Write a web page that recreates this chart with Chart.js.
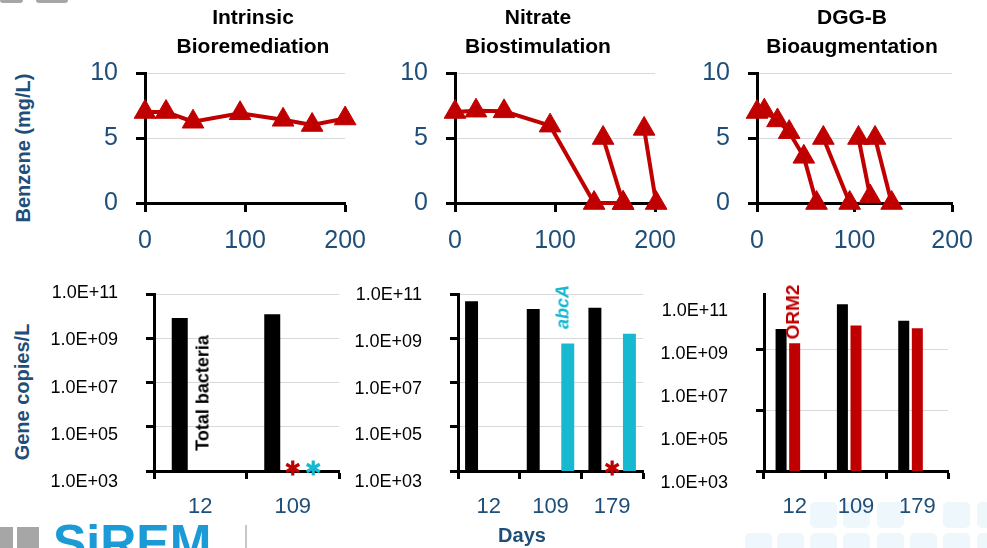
<!DOCTYPE html>
<html>
<head>
<meta charset="utf-8">
<script src="https://cdn.jsdelivr.net/npm/chart.js@4/dist/chart.umd.min.js"></script>
<style>
html,body{margin:0;padding:0;background:#fff;}
#root{position:relative;width:987px;height:548px;overflow:hidden;font-family:'Liberation Sans',Arial,sans-serif;}
canvas{position:absolute;z-index:2;}
.deco{position:absolute;z-index:0;}
.txt{position:absolute;white-space:nowrap;z-index:3;}
.rot{transform:translate(-50%,-50%) rotate(-90deg);}
.title{position:absolute;z-index:3;font-weight:bold;font-size:21px;line-height:29px;text-align:center;transform:translateX(-50%);color:#000;white-space:nowrap;}
</style>
</head>
<body>
<div id="root">
  <!-- decorative background -->
  <div class="deco" style="left:0;top:0;width:23px;height:3px;background:#a6a6a6;border-radius:0 0 3px 3px;"></div>
  <div class="deco" style="left:36px;top:0;width:32px;height:3px;background:#a6a6a6;border-radius:0 0 3px 3px;"></div>
  <div class="deco" style="left:0;top:527px;width:13px;height:30px;background:#a6a6a6;"></div>
  <div class="deco" style="left:17px;top:527px;width:22px;height:30px;background:#a6a6a6;"></div>
  <div class="deco" style="left:53px;top:518px;font-size:50px;line-height:50px;font-weight:bold;color:#1c9ad6;white-space:nowrap;">SiREM</div>
  <div class="deco" style="left:245px;top:525px;width:2px;height:30px;background:#c8c8c8;"></div>
  <div id="tiles"></div>

  <canvas id="c1"></canvas>
  <canvas id="c2"></canvas>
  <canvas id="c3"></canvas>
  <canvas id="c4"></canvas>
  <canvas id="c5"></canvas>
  <canvas id="c6"></canvas>

  <div class="title" style="left:253px;top:2px;">Intrinsic<br>Bioremediation</div>
  <div class="title" style="left:538px;top:2px;">Nitrate<br>Biostimulation</div>
  <div class="title" style="left:852px;top:2px;">DGG-B<br>Bioaugmentation</div>

  <div class="txt rot" style="left:23px;top:148px;font-size:20px;font-weight:bold;color:#1F4E79;">Benzene (mg/L)</div>
  <div class="txt rot" style="left:22px;top:392px;font-size:20px;font-weight:bold;color:#1F4E79;">Gene copies/L</div>
  <div class="txt" style="left:522px;top:535px;transform:translate(-50%,-50%);font-size:20px;font-weight:bold;color:#1F4E79;">Days</div>

  <div class="txt rot" style="left:203px;top:393px;font-size:18px;font-weight:bold;color:#000;">Total bacteria</div>
  <div class="txt rot" style="left:563px;top:307px;font-size:18px;font-weight:bold;font-style:italic;color:#16B9CF;">abcA</div>
  <div class="txt rot" style="left:793px;top:312px;font-size:19px;font-weight:bold;color:#C00000;">ORM2</div>
</div>

<script>
// ---------------- DATA ----------------
// Top row: benzene (mg/L) vs. days
const dayTicks = [0, 100, 200];
const benzeneTicks = [0, 5, 10];

const intrinsicDays    = [0, 21, 48, 95, 138, 167, 200];
const intrinsicBenzene = [7.0, 7.0, 6.25, 6.9, 6.4, 6.0, 6.5];

const nitrateDaysA    = [0, 21, 49, 95, 139, 168];
const nitrateBenzeneA = [7.0, 7.1, 7.05, 5.95, 0, 0];
const nitrateDaysB    = [148, 168];
const nitrateBenzeneB = [5.0, 0];
const nitrateDaysC    = [189, 201];
const nitrateBenzeneC = [5.7, 0];

const dggDaysA    = [0, 7.5, 21, 33, 48, 61];
const dggBenzeneA = [7.0, 7.1, 6.35, 5.45, 3.55, 0];
const dggDaysB    = [68, 95];
const dggBenzeneB = [5.0, 0];
const dggDaysC    = [104, 116];
const dggBenzeneC = [5.0, 0.5];
const dggDaysD    = [121, 138];
const dggBenzeneD = [5.0, 0];

// Bottom row: gene copies / L (log scale)
const geneTickExps = [3, 5, 7, 9, 11];        // labels 1.0E+03 ... 1.0E+11
const dggGridExps  = [3, 6, 9];               // gridlines of the DGG-B panel

const intrinsicSampleDays = ['12', '109'];
const intrinsicTotal = [8.9e9, 1.3e10];
const intrinsicORM2  = [null, null];
const intrinsicAbcA  = [null, null];
const intrinsicORM2BDL = [false, true];       // * = below detection
const intrinsicAbcABDL = [false, true];

const nitrateSampleDays = ['12', '109', '179'];
const nitrateTotal = [5.1e10, 2.25e10, 2.6e10];
const nitrateORM2  = [null, null, null];
const nitrateAbcA  = [null, 6.2e8, 1.7e9];
const nitrateORM2BDL = [false, false, true];

const dggSampleDays = ['12', '109', '179'];
const dggTotal = [1.0e10, 1.66e11, 2.6e10];
const dggORM2  = [2.0e9, 1.5e10, 1.1e10];
const dggAbcA  = [null, null, null];

// ---------------- STYLE ----------------
const BLUE = '#1F4E79';
const RED = '#C00000';
const CYAN = '#16B9CF';
const GRID = '#D9D9D9';
const FONT = "'Liberation Sans', Arial, sans-serif";
Chart.defaults.font.family = FONT;

// decorative tiles (bottom right)
(function(){
  const tiles = document.getElementById('tiles');
  const rows = [
    {t:502, h:26, xs:[810, 843, 877, 943, 977]},
    {t:533, h:26, xs:[745, 777, 810, 843, 877, 910, 943, 977]}
  ];
  rows.forEach(r => r.xs.forEach(x => {
    const d = document.createElement('div');
    d.className = 'deco';
    d.style.cssText = `left:${x}px;top:${r.t}px;width:27px;height:${r.h}px;background:#eef7fc;border-radius:5px;`;
    tiles.appendChild(d);
  }));
})();

function setupCanvas(id, c) {
  const el = document.getElementById(id);
  el.width = c.w; el.height = c.h;
  el.style.left = c.x + 'px'; el.style.top = c.y + 'px';
  el.style.width = c.w + 'px'; el.style.height = c.h + 'px';
  return el;
}

function lineSeries(xs, ys) {
  return {
    data: xs.map((d, i) => ({x: d, y: ys[i]})),
    showLine: true, borderColor: RED, backgroundColor: RED, borderWidth: 4,
    pointStyle: 'triangle', pointRadius: 12.5, pointBorderWidth: 1,
    pointBorderColor: RED, pointBackgroundColor: RED, clip: false, tension: 0
  };
}

function topChart(id, c, a, series) {
  const el = setupCanvas(id, c);
  const yW = a.l - c.x, xH = 50;
  return new Chart(el, {
    type: 'scatter',
    data: {datasets: series},
    options: {
      responsive: false, animation: false, devicePixelRatio: 1, events: [],
      layout: {padding: {left: 0, top: a.t - c.y, right: c.x + c.w - a.r, bottom: c.y + c.h - a.b - xH}},
      plugins: {legend: {display: false}, tooltip: {enabled: false}},
      scales: {
        x: {
          type: 'linear', min: 0, max: 200,
          afterBuildTicks: s => { s.ticks = dayTicks.map(v => ({value: v})); },
          afterFit: s => { s.height = xH; },
          border: {color: '#000', width: 3},
          grid: {drawOnChartArea: false, drawTicks: true, tickLength: 9, tickWidth: 3, tickColor: '#000'},
          ticks: {color: BLUE, font: {size: 25}, padding: 14, maxRotation: 0, autoSkip: false}
        },
        y: {
          min: 0, max: 10,
          afterBuildTicks: s => { s.ticks = benzeneTicks.map(v => ({value: v})); },
          afterFit: s => { s.width = yW; },
          border: {color: '#000', width: 3},
          grid: {color: GRID, lineWidth: 1, drawTicks: true, tickLength: 9, tickWidth: 3, tickColor: '#000'},
          ticks: {color: BLUE, font: {size: 25}, padding: 18, autoSkip: false}
        }
      }
    }
  });
}

function drawAsterisk(ctx, x, y, color) {
  ctx.save();
  ctx.strokeStyle = color; ctx.lineWidth = 3.2; ctx.lineCap = 'butt';
  const r = 7.5;
  for (let k = 0; k < 3; k++) {
    const ang = Math.PI / 2 + k * Math.PI / 3;
    ctx.beginPath();
    ctx.moveTo(x + Math.cos(ang) * r, y - Math.sin(ang) * r);
    ctx.lineTo(x - Math.cos(ang) * r, y + Math.sin(ang) * r);
    ctx.stroke();
  }
  ctx.restore();
}

const bdlPlugin = {
  id: 'bdl',
  afterDatasetsDraw(chart) {
    const ctx = chart.ctx;
    const y = chart.scales.y.bottom - 3;
    chart.data.datasets.forEach((ds, di) => {
      if (!ds.bdl) return;
      const meta = chart.getDatasetMeta(di);
      ds.bdl.forEach((flag, i) => {
        if (flag && meta.data[i]) drawAsterisk(ctx, meta.data[i].x, y, ds.backgroundColor);
      });
    });
  }
};

function fmtE(v) {
  const e = Math.round(Math.log10(v));
  return '1.0E+' + String(e).padStart(2, '0');
}

function bottomChart(id, c, a, cats, sets, o) {
  const el = setupCanvas(id, c);
  const xH = 60, mainW = 12, lblW = a.l - c.x - mainW;
  return new Chart(el, {
    type: 'bar',
    data: {
      labels: cats,
      datasets: sets.map(s => ({
        data: s.data, backgroundColor: s.color, borderWidth: 0, bdl: s.bdl,
        categoryPercentage: o.cat, barPercentage: o.bar
      }))
    },
    plugins: [bdlPlugin],
    options: {
      responsive: false, animation: false, devicePixelRatio: 1, events: [],
      layout: {padding: {left: 0, top: a.t - c.y, right: c.x + c.w - a.r, bottom: c.y + c.h - a.b - xH}},
      plugins: {legend: {display: false}, tooltip: {enabled: false}},
      scales: {
        x: {
          afterFit: s => { s.height = xH; },
          border: {color: '#000', width: 3},
          grid: {offset: true, drawOnChartArea: false, drawTicks: true, tickLength: 8, tickWidth: 3, tickColor: '#000'},
          ticks: {color: BLUE, font: {size: 22}, padding: 15, maxRotation: 0, autoSkip: false}
        },
        y: {
          type: 'logarithmic', position: 'left', weight: 0,
          min: 1e3, max: Math.pow(10, o.maxExp),
          afterBuildTicks: s => { s.ticks = o.gridExps.map(e => ({value: Math.pow(10, e)})); },
          afterFit: s => { s.width = mainW; },
          border: {color: '#000', width: 3},
          grid: {color: GRID, lineWidth: 1, drawTicks: true, tickLength: 8, tickWidth: 3, tickColor: '#000'},
          ticks: {display: false}
        },
        yl: {
          type: 'logarithmic', position: 'left', weight: 1,
          min: Math.pow(10, o.lblMin), max: Math.pow(10, o.lblMax),
          afterBuildTicks: s => { s.ticks = geneTickExps.map(e => ({value: Math.pow(10, e)})); },
          afterFit: s => { s.width = lblW; },
          border: {display: false},
          grid: {display: false, drawTicks: false},
          ticks: {color: '#000', font: {size: 18}, padding: 24, autoSkip: false, callback: v => fmtE(v)}
        }
      }
    }
  });
}

// ---------------- CHARTS ----------------
topChart('c1', {x: 60, y: 40, w: 320, h: 213}, {l: 145, r: 351, t: 68, b: 203},
  [lineSeries(intrinsicDays, intrinsicBenzene)]);
topChart('c2', {x: 380, y: 40, w: 310, h: 213}, {l: 455, r: 663, t: 68, b: 203},
  [lineSeries(nitrateDaysA, nitrateBenzeneA), lineSeries(nitrateDaysB, nitrateBenzeneB), lineSeries(nitrateDaysC, nitrateBenzeneC)]);
topChart('c3', {x: 680, y: 40, w: 307, h: 213}, {l: 757, r: 962, t: 68, b: 203},
  [lineSeries(dggDaysA, dggBenzeneA), lineSeries(dggDaysB, dggBenzeneB), lineSeries(dggDaysC, dggBenzeneC), lineSeries(dggDaysD, dggBenzeneD)]);

bottomChart('c4', {x: 40, y: 260, w: 320, h: 271}, {l: 154, r: 339, t: 286, b: 471}, intrinsicSampleDays, [
  {data: intrinsicTotal, color: '#000'},
  {data: intrinsicORM2, color: RED, bdl: intrinsicORM2BDL},
  {data: intrinsicAbcA, color: CYAN, bdl: intrinsicAbcABDL}
], {cat: 0.665, bar: 0.78, maxExp: 11, gridExps: geneTickExps, lblMin: 3.472, lblMax: 10.927});

bottomChart('c5', {x: 350, y: 260, w: 320, h: 271}, {l: 458, r: 643, t: 285, b: 471}, nitrateSampleDays, [
  {data: nitrateTotal, color: '#000'},
  {data: nitrateORM2, color: RED, bdl: nitrateORM2BDL},
  {data: nitrateAbcA, color: CYAN}
], {cat: 0.84, bar: 0.75, maxExp: 11, gridExps: geneTickExps, lblMin: 3.474, lblMax: 11.012});

bottomChart('c6', {x: 660, y: 260, w: 327, h: 271}, {l: 764, r: 948, t: 292, b: 471}, dggSampleDays, [
  {data: dggTotal, color: '#000'},
  {data: dggORM2, color: RED},
  {data: dggAbcA, color: CYAN}
], {cat: 0.665, bar: 0.81, maxExp: 11.69, gridExps: dggGridExps, lblMin: 3.562, lblMax: 11.745});
</script>
</body>
</html>
